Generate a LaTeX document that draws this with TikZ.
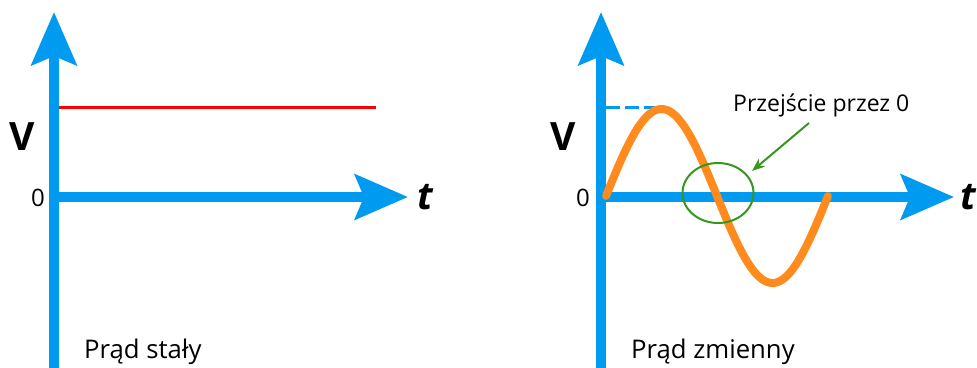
\documentclass[tikz,border=0pt]{standalone}
\usepackage{fontspec}
\setmainfont{Open Sans}
\usetikzlibrary{arrows.meta,shapes.geometric}
\definecolor{axblue}{RGB}{0,155,240}
\definecolor{waveorange}{RGB}{255,138,30}
\definecolor{markgreen}{RGB}{56,150,30}
\begin{document}
\begin{tikzpicture}[x=1pt,y=-1pt,
  axis/.style={draw=axblue, line width=9.5pt, -{Stealth[length=53pt,width=45pt,inset=9pt,fill=axblue]}},
  lbl/.style={font=\fontsize{25.7}{29}\selectfont, text=black, inner sep=0pt},
  slbl/.style={font=\fontsize{23}{26}\selectfont, text=black, inner sep=0pt},
  vlbl/.style={font=\fontsize{39}{42}\selectfont\bfseries, inner sep=0pt},
  tlbl/.style={font=\fontsize{38}{42}\selectfont\bfseries\itshape, inner sep=0pt},
  zlbl/.style={font=\fontsize{24}{27}\selectfont, inner sep=0pt}]
\useasboundingbox (0,0) rectangle (977,367);
\clip (0,0) rectangle (977,367);
% left panel
\coordinate (LB) at (54,375);
\coordinate (LT) at (54,12);
\coordinate (LO) at (54,197);
\coordinate (LX) at (408,197);
\coordinate (R1) at (59,107);
\coordinate (R2) at (376,107);
\draw[axis] (LB) -- (LT);
\draw[axis] (LO) -- (LX);
\draw[red, line width=3pt] (R1) -- (R2);
\node[vlbl] (LV) at (22,137) {V};
\node[zlbl] (L0) at (38,198) {0};
\node[tlbl] (Lt) at (425,197) {t};
\node[lbl, anchor=base west] (Lname) at (84,358) {Prąd stały};
% right panel
\coordinate (RB) at (601,375);
\coordinate (RT) at (601,12);
\coordinate (RO) at (601,197);
\coordinate (RX) at (954,197);
\coordinate (D1) at (606,107);
\coordinate (D2) at (656,107);
\draw[axis] (RB) -- (RT);
\draw[axis] (RO) -- (RX);
\draw[axblue, line width=3pt, dash pattern=on 14pt off 5pt] (D1) -- (D2);
\draw[waveorange, line width=8pt, line cap=round, line join=round]
  plot[domain=0:222, samples=120] ({606+\x}, {196-87*sin(1.62162*\x)});
\node[draw=markgreen, line width=2pt, ellipse, minimum width=71pt, minimum height=60pt, inner sep=0pt] (E) at (718,193) {};
\node[vlbl] (RV) at (563,137) {V};
\node[zlbl] (R0) at (583,198) {0};
\node[tlbl] (Rt) at (968,197) {t};
\node[lbl, anchor=base west] (Rname) at (631,358) {Prąd zmienny};
\node[slbl, anchor=base west] (Zc) at (733,111) {Przejście przez 0};
\coordinate (G1) at (809,123);
\coordinate (G2) at (752,171);
\draw[markgreen, line width=2pt, -{Stealth[length=13pt,width=10pt]}] (G1) -- (G2);
\end{tikzpicture}
\end{document}
